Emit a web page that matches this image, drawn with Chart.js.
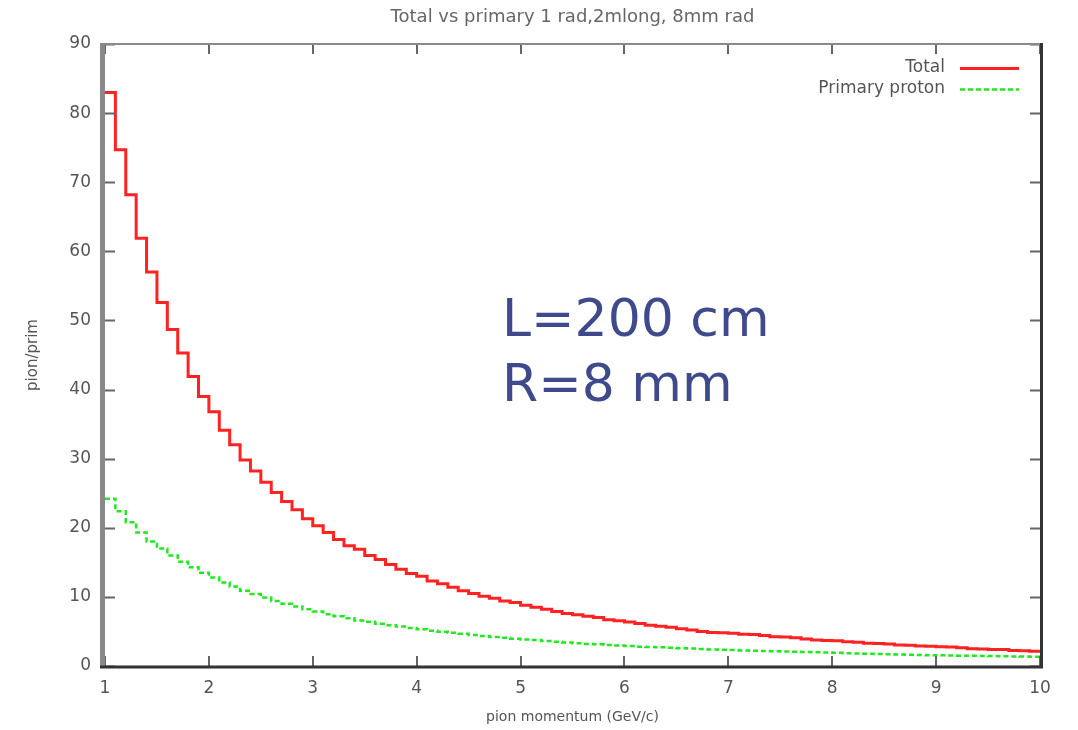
<!DOCTYPE html>
<html>
<head>
<meta charset="utf-8">
<title>Total vs primary</title>
<script src="https://cdn.jsdelivr.net/npm/chart.js@4.4.0/dist/chart.umd.min.js"></script>
<style>
  html, body { margin: 0; padding: 0; background: #fff; }
  #wrap { width: 1078px; height: 730px; }
</style>
</head>
<body>
<div id="wrap"><canvas id="chart" width="1078" height="730"></canvas></div>
<script>
// histogram bins, 0.1 GeV/c wide, starting at 1 GeV/c
const binStart = 1.0;
const binWidth = 0.1;

// Total (pion/prim), one value per bin
const totalPions = [
  83.0, 74.7, 68.2, 61.9, 57.0, 52.6, 48.7, 45.3, 41.9, 39.0,
  36.8, 34.1, 32.0, 29.8, 28.2, 26.6, 25.1, 23.8, 22.6, 21.3,
  20.3, 19.3, 18.3, 17.4, 16.9, 16.0, 15.4, 14.7, 14.0, 13.4,
  13.0, 12.3, 11.9, 11.4, 10.9, 10.5, 10.1, 9.8, 9.4, 9.2,
  8.8, 8.5, 8.2, 7.9, 7.6, 7.4, 7.2, 7.0, 6.7, 6.55,
  6.35, 6.15, 5.9, 5.75, 5.6, 5.4, 5.2, 5.0, 4.85, 4.8,
  4.75, 4.6, 4.55, 4.4, 4.25, 4.2, 4.1, 3.9, 3.75, 3.7,
  3.65, 3.5, 3.45, 3.3, 3.25, 3.2, 3.05, 3.0, 2.9, 2.85,
  2.8, 2.75, 2.65, 2.5, 2.45, 2.4, 2.4, 2.25, 2.2, 2.15
];

// Primary proton, same bins
const primaryProtons = [
  24.2, 22.4, 20.8, 19.3, 18.0, 17.0, 16.0, 15.1, 14.3, 13.5,
  12.8, 12.1, 11.5, 10.9, 10.4, 9.9, 9.4, 9.0, 8.6, 8.2,
  7.9, 7.5, 7.2, 6.9, 6.6, 6.4, 6.1, 5.9, 5.7, 5.5,
  5.3, 5.1, 4.95, 4.8, 4.65, 4.5, 4.35, 4.2, 4.1, 3.95,
  3.85, 3.75, 3.6, 3.5, 3.4, 3.3, 3.2, 3.15, 3.05, 2.95,
  2.9, 2.8, 2.75, 2.7, 2.65, 2.58, 2.52, 2.46, 2.4, 2.35,
  2.3, 2.26, 2.22, 2.18, 2.14, 2.1, 2.06, 2.02, 1.98, 1.95,
  1.9, 1.86, 1.82, 1.78, 1.74, 1.7, 1.66, 1.63, 1.6, 1.57,
  1.54, 1.51, 1.49, 1.47, 1.45, 1.43, 1.41, 1.39, 1.37, 1.35
];

const xTicks = [1, 2, 3, 4, 5, 6, 7, 8, 9, 10];
const yTicks = [0, 10, 20, 30, 40, 50, 60, 70, 80, 90];

const labelFont = '"DejaVu Sans", sans-serif';
const textGray = '#555';

// turn bin values into step points; last point closes the final bin
function toSteps(values) {
  const pts = values.map((v, i) => ({ x: +(binStart + i * binWidth).toFixed(2), y: v }));
  pts.push({ x: +(binStart + values.length * binWidth).toFixed(2), y: values[values.length - 1] });
  return pts;
}

// gnuplot style box with inward ticks on all four sides
const frame = {
  id: 'frame',
  afterDatasetsDraw(chart) {
    const { ctx, chartArea: a, scales: { x, y } } = chart;
    ctx.save();
    ctx.lineCap = 'butt';

    ctx.strokeStyle = '#666';
    ctx.lineWidth = 2;
    ctx.beginPath();
    yTicks.forEach(v => {
      const py = Math.round(y.getPixelForValue(v)) + 0.5;
      ctx.moveTo(a.left, py); ctx.lineTo(a.left + 10, py);
      ctx.moveTo(a.right, py); ctx.lineTo(a.right - 10, py);
    });
    xTicks.forEach(v => {
      const px = Math.round(x.getPixelForValue(v));
      ctx.moveTo(px, a.bottom); ctx.lineTo(px, a.bottom - 10);
      ctx.moveTo(px, a.top); ctx.lineTo(px, a.top + 10);
    });
    ctx.stroke();

    // top and left edges come out grey in the original
    ctx.strokeStyle = '#8a8a8a';
    ctx.lineWidth = 2;
    ctx.beginPath();
    ctx.moveTo(a.left - 5, a.top); ctx.lineTo(a.right, a.top);
    ctx.stroke();
    ctx.lineWidth = 5;
    ctx.beginPath();
    ctx.moveTo(a.left - 2.5, a.top); ctx.lineTo(a.left - 2.5, a.bottom);
    ctx.stroke();

    ctx.strokeStyle = '#333';
    ctx.lineWidth = 3;
    ctx.beginPath();
    ctx.moveTo(a.left - 5, a.bottom + 1); ctx.lineTo(a.right + 1.5, a.bottom + 1);
    ctx.moveTo(a.right + 1.5, a.top - 1); ctx.lineTo(a.right + 1.5, a.bottom + 2.5);
    ctx.stroke();
    ctx.restore();
  }
};

// key in the top right corner, text left of the sample
const key = {
  id: 'key',
  afterDraw(chart) {
    const { ctx } = chart;
    const ds = chart.data.datasets;
    ctx.save();
    ctx.font = '17px ' + labelFont;
    ctx.fillStyle = textGray;
    ctx.textAlign = 'right';
    ctx.textBaseline = 'middle';
    ds.forEach((d, i) => {
      const yy = 68 + i * 21;
      ctx.fillText(d.label, 945, yy);
      ctx.strokeStyle = d.borderColor;
      ctx.lineWidth = d.borderWidth;
      ctx.setLineDash(d.borderDash || []);
      ctx.beginPath();
      ctx.moveTo(960, yy + 0.5); ctx.lineTo(1019, yy + 0.5);
      ctx.stroke();
    });
    ctx.restore();
  }
};

// hand-written note pasted onto the plot
const note = {
  id: 'note',
  afterDraw(chart) {
    const { ctx } = chart;
    ctx.save();
    ctx.font = '52px "DejaVu Sans", sans-serif';
    ctx.fillStyle = '#3f4a8c';
    ctx.textAlign = 'left';
    ctx.textBaseline = 'alphabetic';
    ctx.fillText('L=200 cm', 502, 336);
    ctx.fillText('R=8 mm', 502, 401);
    ctx.restore();
  }
};

new Chart(document.getElementById('chart'), {
  type: 'line',
  data: {
    datasets: [
      {
        label: 'Total',
        data: toSteps(totalPions),
        borderColor: '#ff2222',
        borderWidth: 3,
        stepped: 'before',
        fill: false,
        pointRadius: 0
      },
      {
        label: 'Primary proton',
        data: toSteps(primaryProtons),
        borderColor: '#22e822',
        borderWidth: 2.5,
        borderDash: [5, 3],
        stepped: 'before',
        fill: false,
        pointRadius: 0
      }
    ]
  },
  options: {
    responsive: false,
    animation: false,
    layout: { padding: { left: 0, right: 38, top: 0, bottom: 0 } },
    plugins: {
      legend: { display: false },
      tooltip: { enabled: false },
      title: {
        display: true,
        fullSize: false,
        text: 'Total vs primary 1 rad,2mlong, 8mm rad',
        color: '#666',
        font: { family: labelFont, size: 18, weight: 'normal' },
        padding: { top: 7, bottom: 15.4 }
      }
    },
    scales: {
      x: {
        type: 'linear',
        min: 1,
        max: 10,
        afterBuildTicks: s => { s.ticks = xTicks.map(v => ({ value: v })); },
        afterFit: s => { s.height = 64; },
        grid: { display: false, drawTicks: false },
        border: { display: false },
        ticks: { padding: 12, color: textGray, font: { family: labelFont, size: 17 } },
        title: {
          display: true,
          text: 'pion momentum (GeV/c)',
          color: textGray,
          font: { family: labelFont, size: 14 },
          padding: { top: 0, bottom: 4 }
        }
      },
      y: {
        type: 'linear',
        min: 0,
        max: 90,
        afterBuildTicks: s => { s.ticks = yTicks.map(v => ({ value: v })); },
        afterFit: s => { s.width = 105; },
        grid: { display: false, drawTicks: false },
        border: { display: false },
        ticks: { padding: 14, color: textGray, font: { family: labelFont, size: 17 } },
        title: {
          display: true,
          text: 'pion/prim',
          color: textGray,
          font: { family: labelFont, size: 15 },
          padding: { top: 24, bottom: 0 }
        }
      }
    }
  },
  plugins: [frame, key, note]
});
</script>
</body>
</html>
